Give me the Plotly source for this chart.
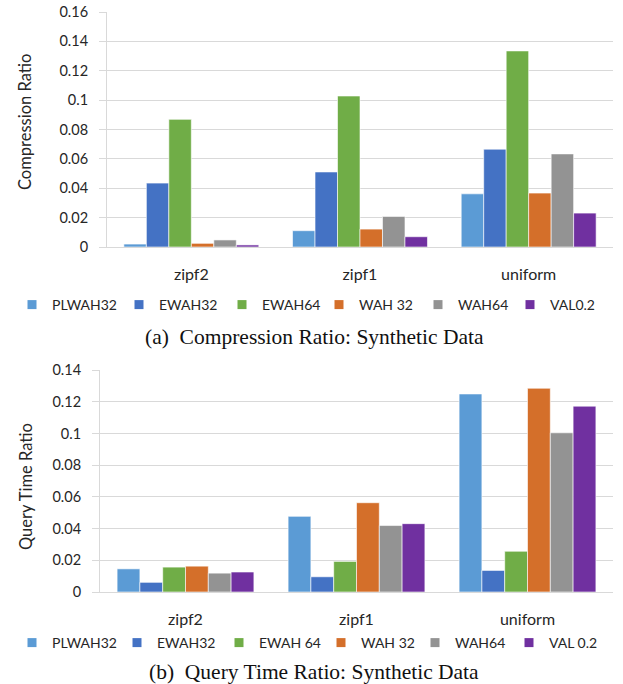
import plotly.graph_objects as go

W, H = 623, 684

categories = ["zipf2", "zipf1", "uniform"]

series_a = ["PLWAH32", "EWAH32", "EWAH64", "WAH 32", "WAH64", "VAL0.2"]
series_b = ["PLWAH32", "EWAH32", "EWAH 64", "WAH 32", "WAH64", "VAL 0.2"]
colors = ["#5B9BD5", "#4472C4", "#70AD47", "#D46F2A", "#939393", "#7030A0"]

compression = [
    [0.0020, 0.0111, 0.0362],   # PLWAH32
    [0.0435, 0.0511, 0.0666],   # EWAH32
    [0.0869, 0.1028, 0.1335],   # EWAH64
    [0.0025, 0.0122, 0.0367],   # WAH 32
    [0.0048, 0.0208, 0.0634],   # WAH64
    [0.0014, 0.0070, 0.0231],   # VAL0.2
]

query_time = [
    [0.0146, 0.0477, 0.1249],   # PLWAH32
    [0.0061, 0.0096, 0.0136],   # EWAH32
    [0.0157, 0.0193, 0.0257],   # EWAH 64
    [0.0163, 0.0563, 0.1285],   # WAH 32
    [0.0119, 0.0419, 0.1004],   # WAH64
    [0.0126, 0.0431, 0.1172],   # VAL 0.2
]

yticks_a = [0, 0.02, 0.04, 0.06, 0.08, 0.1, 0.12, 0.14, 0.16]
yticks_b = [0, 0.02, 0.04, 0.06, 0.08, 0.1, 0.12, 0.14]

# legend text start positions (px) for each entry
legend_text_a = [50, 157, 260, 357, 456, 548]
legend_text_b = [50, 155, 257, 359, 453, 547]

FONT = "Lato"
SERIF = "Liberation Serif"
TXT = "#262626"


def px_x(p):
    return p / W


def px_y(p):
    return 1 - p / H


fig = go.Figure()

for i, name in enumerate(series_a):
    fig.add_trace(go.Bar(
        x=categories, y=compression[i], name=name, showlegend=False,
        marker=dict(color=colors[i], line=dict(color="#FFFFFF", width=0.6)),
        xaxis="x", yaxis="y", offsetgroup=str(i), hoverinfo="skip",
    ))
for i, name in enumerate(series_b):
    fig.add_trace(go.Bar(
        x=categories, y=query_time[i], name=name, showlegend=False,
        marker=dict(color=colors[i], line=dict(color="#FFFFFF", width=0.6)),
        xaxis="x2", yaxis="y2", offsetgroup=str(i), hoverinfo="skip",
    ))

# legend entries (one small legend per entry so that spacing follows the reference)
legends = {}
for panel, (names, starts, yc, xa, ya) in enumerate([
    (series_a, legend_text_a, 305, "x", "y"),
    (series_b, legend_text_b, 643, "x2", "y2"),
]):
    for i, name in enumerate(names):
        lid = "legend" if (panel == 0 and i == 0) else f"legend{panel * 6 + i + 1}"
        fig.add_trace(go.Scatter(
            x=[None], y=[None], mode="markers", name=name,
            marker=dict(symbol="square", size=9, color=colors[i]),
            xaxis=xa, yaxis=ya, legend=lid, showlegend=True,
        ))
        legends[lid] = dict(
            orientation="h", xanchor="left", yanchor="middle",
            x=px_x(starts[i] + 2 - 40), y=px_y(yc),
            font=dict(family=FONT, size=14, color=TXT),
            bgcolor="rgba(0,0,0,0)", itemclick=False, itemdoubleclick=False,
            itemwidth=30, borderwidth=0,
        )

axis_common = dict(
    showgrid=False, showline=True, linecolor="#D9D9D9", linewidth=1,
    ticks="", tickfont=dict(family=FONT, size=16, color=TXT),
    ticklabelstandoff=13, fixedrange=True,
)
yaxis_common = dict(
    showgrid=True, gridcolor="#D9D9D9", gridwidth=1,
    showline=True, linecolor="#D9D9D9", linewidth=1,
    ticks="outside", ticklen=7, tickcolor="#D9D9D9",
    ticklabelstandoff=8,
    tickfont=dict(family=FONT, size=14.5, color=TXT),
    zeroline=False, fixedrange=True,
)

fig.update_layout(
    width=W, height=H,
    margin=dict(l=0, r=0, t=0, b=0, autoexpand=False),
    paper_bgcolor="white", plot_bgcolor="white",
    barmode="group", bargap=0.2, bargroupgap=0,
    showlegend=True,
    xaxis=dict(axis_common, domain=[px_x(107), px_x(613)], anchor="y"),
    yaxis=dict(yaxis_common, domain=[px_y(247), px_y(12)], anchor="x",
               range=[0, 0.16], tickvals=yticks_a),
    xaxis2=dict(axis_common, domain=[px_x(100), px_x(613)], anchor="y2"),
    yaxis2=dict(yaxis_common, domain=[px_y(592), px_y(370)], anchor="x2",
                range=[0, 0.14], tickvals=yticks_b),
    annotations=[
        dict(text="Compression Ratio", x=px_x(25), y=px_y(122), textangle=-90,
             xref="paper", yref="paper", showarrow=False, xanchor="center", yanchor="middle",
             font=dict(family=FONT, size=16.5, color=TXT)),
        dict(text="Query Time Ratio", x=px_x(26), y=px_y(487), textangle=-90,
             xref="paper", yref="paper", showarrow=False, xanchor="center", yanchor="middle",
             font=dict(family=FONT, size=16.5, color=TXT)),
        dict(text="(a)  Compression Ratio: Synthetic Data", x=px_x(314), y=px_y(337),
             xref="paper", yref="paper", showarrow=False, xanchor="center", yanchor="middle",
             font=dict(family=SERIF, size=21.5, color="#111111")),
        dict(text="(b)  Query Time Ratio: Synthetic Data", x=px_x(314), y=px_y(672),
             xref="paper", yref="paper", showarrow=False, xanchor="center", yanchor="middle",
             font=dict(family=SERIF, size=21.5, color="#111111")),
    ],
    **legends,
)

fig.write_html(
    "out.html",
    config={"displayModeBar": False, "staticPlot": False},
    post_script="document.body.style.margin='0';document.body.style.padding='0';",
)
